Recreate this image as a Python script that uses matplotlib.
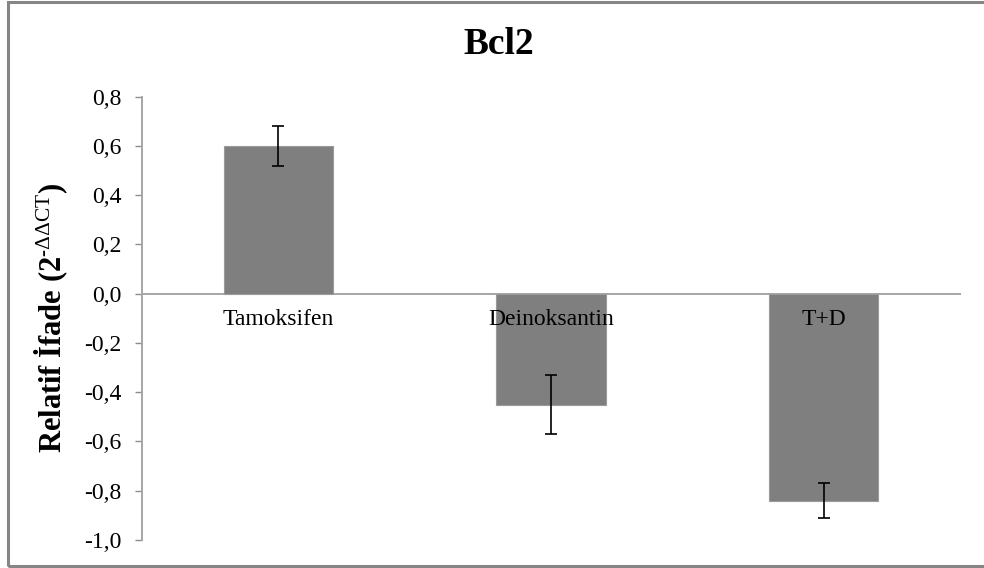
import matplotlib
matplotlib.use("Agg")
import matplotlib.pyplot as plt
from matplotlib.patches import Rectangle
import numpy as np

plt.rcParams['font.family'] = ['Liberation Serif', 'DejaVu Serif']
plt.rcParams['mathtext.fontset'] = 'custom'
plt.rcParams['mathtext.rm'] = 'Liberation Serif'
plt.rcParams['mathtext.it'] = 'Liberation Serif:italic'
plt.rcParams['mathtext.bf'] = 'Liberation Serif:bold'

# Bcl2 relative expression
groups = ["Tamoksifen", "Deinoksantin", "T+D"]
values = [0.60, -0.45, -0.84]
errors = [0.08, 0.12, 0.07]
yticks = [0.8, 0.6, 0.4, 0.2, 0.0, -0.2, -0.4, -0.6, -0.8, -1.0]

W, H = 984, 568
fig = plt.figure(figsize=(W / 100, H / 100), dpi=100)
ax = fig.add_axes([142 / W, 1 - 540 / H, (960 - 142) / W, (540 - 96.7) / H])

# zero line as x axis, only left spine otherwise
for side in ("top", "right"):
    ax.spines[side].set_visible(False)
ax.spines["bottom"].set_position(("data", 0))
for side in ("left", "bottom"):
    ax.spines[side].set_color("#a6a6a6")
    ax.spines[side].set_linewidth(1.4)
ax.spines["bottom"].set_zorder(1)

x = np.arange(len(groups))
ax.bar(x, values, width=0.4, color="#7f7f7f", edgecolor="#9a9a9a", linewidth=0.8, zorder=2)
ax.errorbar(x, values, yerr=errors, fmt="none", ecolor="black", elinewidth=1.2,
            capsize=4.4, capthick=1.2, zorder=3)

ax.set_xlim(-0.5, len(groups) - 0.5)
ax.set_ylim(-1.0, 0.8)
ax.set_yticks(yticks)
ax.set_yticklabels([f"{t:.1f}".replace(".", ",") for t in yticks], fontsize=17)
ax.tick_params(axis="y", length=5, width=1, color="#8c8c8c", pad=10)
ax.set_xticks([])

# category names sit just under the zero line, over the bars
for xi, name in zip(x, groups):
    ax.annotate(name, xy=(xi, 0), xytext=(0, -11), textcoords="offset points",
                ha="center", va="top", fontsize=17, color="black", zorder=5)

ax.set_ylabel("Relatif İfade (2$^{\\text{-ΔΔCT}}$)", fontsize=22, fontweight="bold", labelpad=10)
fig.text(499 / W, 1 - 44 / H, "Bcl2", fontsize=27, fontweight="bold", ha="center", va="center")

# chart frame (left, top, bottom edges)
fig.patches.append(Rectangle((8 / W, 2 / H), 1.2, 1 - 4 / H, transform=fig.transFigure,
                             fill=False, edgecolor="#868686", linewidth=2.2))

fig.savefig("out.png", dpi=100)
